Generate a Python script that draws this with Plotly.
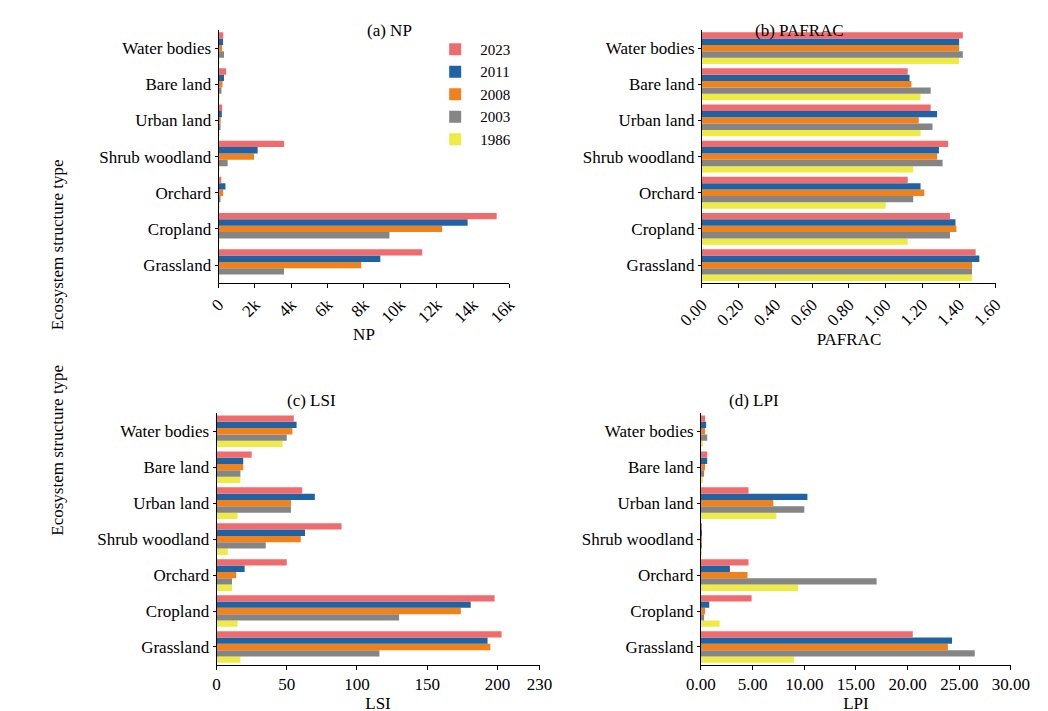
import plotly.graph_objects as go
from plotly.subplots import make_subplots

categories = ["Grassland", "Cropland", "Orchard", "Shrub woodland", "Urban land", "Bare land", "Water bodies"]
years = ["1986", "2003", "2008", "2011", "2023"]
colors = {"1986": "#EEEB45", "2003": "#858585", "2008": "#F0821E", "2011": "#1F63A3", "2023": "#EE6B6E"}

# values per year, in category order above
np_vals = {
    "2023": [11200, 15300, 150, 3600, 200, 420, 260],
    "2011": [8900, 13700, 380, 2150, 180, 300, 250],
    "2008": [7850, 12300, 250, 1950, 120, 220, 200],
    "2003": [3600, 9400, 100, 500, 100, 160, 300],
    "1986": [40, 50, 10, 30, 20, 10, 20],
}
pafrac_vals = {
    "2023": [1.49, 1.35, 1.12, 1.34, 1.245, 1.12, 1.42],
    "2011": [1.51, 1.38, 1.19, 1.29, 1.28, 1.13, 1.40],
    "2008": [1.47, 1.385, 1.21, 1.28, 1.18, 1.14, 1.40],
    "2003": [1.47, 1.35, 1.15, 1.31, 1.255, 1.245, 1.42],
    "1986": [1.47, 1.12, 1.00, 1.15, 1.19, 1.19, 1.40],
}
lsi_vals = {
    "2023": [203, 198, 50, 89, 61, 25, 55],
    "2011": [193, 181, 20, 63, 70, 19, 57],
    "2008": [195, 174, 14, 60, 53, 19, 54],
    "2003": [116, 130, 11, 35, 53, 17, 50],
    "1986": [17, 15, 11, 8, 15, 17, 47],
}
lpi_vals = {
    "2023": [20.5, 4.9, 4.6, 0.05, 4.6, 0.6, 0.4],
    "2011": [24.3, 0.8, 2.8, 0.05, 10.3, 0.6, 0.5],
    "2008": [23.9, 0.4, 4.5, 0.05, 7.0, 0.4, 0.4],
    "2003": [26.5, 0.3, 17.0, 0.05, 10.0, 0.3, 0.6],
    "1986": [9.0, 1.8, 9.4, 0.05, 7.3, 0.1, 0.1],
}

panels = [
    (np_vals, 1, 1),
    (pafrac_vals, 1, 2),
    (lsi_vals, 2, 1),
    (lpi_vals, 2, 2),
]

fig = make_subplots(rows=2, cols=2)
for i, (vals, r, c) in enumerate(panels):
    for y in years:
        fig.add_trace(go.Bar(y=categories, x=vals[y], orientation="h", name=y,
                             marker=dict(color=colors[y], line=dict(width=0)),
                             showlegend=(i == 0)), row=r, col=c)

font = dict(family="Liberation Serif", size=17, color="black")
axis_common = dict(showline=True, linecolor="black", linewidth=1, ticks="outside",
                   tickcolor="black", showgrid=False, zeroline=False, tickfont=font)
fig.update_xaxes(**axis_common, ticklen=4)
fig.update_yaxes(**axis_common, ticklen=3)

dx = {1: (0.184, 0.474), 2: (0.666, 0.959), 3: (0.182, 0.504), 4: (0.665, 0.974)}
dy = {1: (0.613, 0.969), 2: (0.613, 0.969), 3: (0.076, 0.430), 4: (0.076, 0.430)}
for k in range(1, 5):
    xa = "xaxis" if k == 1 else "xaxis%d" % k
    ya = "yaxis" if k == 1 else "yaxis%d" % k
    fig.layout[xa].domain = dx[k]
    fig.layout[ya].domain = dy[k]

fig.update_layout(
    xaxis=dict(range=[0, 16000], dtick=2000, tickangle=-45, title=dict(text="NP", font=font, standoff=2)),
    xaxis2=dict(range=[0, 1.6], dtick=0.2, tickformat=".2f", tickangle=-45,
                title=dict(text="PAFRAC", font=font, standoff=2)),
    xaxis3=dict(range=[0, 230], tickvals=[0, 50, 100, 150, 200, 230], title=dict(text="LSI", font=font, standoff=2)),
    xaxis4=dict(range=[0, 30], dtick=5, tickformat=".2f", title=dict(text="LPI", font=font, standoff=2)),
    bargap=0.12, bargroupgap=0,
    width=1048, height=711, plot_bgcolor="white", paper_bgcolor="white",
    margin=dict(l=0, r=0, t=0, b=0), font=font,
    legend=dict(x=0.395, y=0.965, xanchor="left", yanchor="top", traceorder="reversed",
                font=dict(family="Liberation Serif", size=15), itemwidth=40,
                bgcolor="rgba(0,0,0,0)"),
    annotations=[
        dict(text="(a) NP", x=0.33, y=0.985, xref="paper", yref="paper", showarrow=False, font=font),
        dict(text="(b) PAFRAC", x=0.81, y=0.985, xref="paper", yref="paper", showarrow=False, font=font),
        dict(text="(c) LSI", x=0.25, y=0.448, xref="paper", yref="paper", showarrow=False, font=font),
        dict(text="(d) LPI", x=0.745, y=0.448, xref="paper", yref="paper", showarrow=False, font=font),
        dict(text="Ecosystem structure type", x=0.012, y=0.79, xref="paper", yref="paper",
             showarrow=False, textangle=-90, font=font),
        dict(text="Ecosystem structure type", x=0.012, y=0.255, xref="paper", yref="paper",
             showarrow=False, textangle=-90, font=font),
    ],
)

fig.write_html("out.html")
